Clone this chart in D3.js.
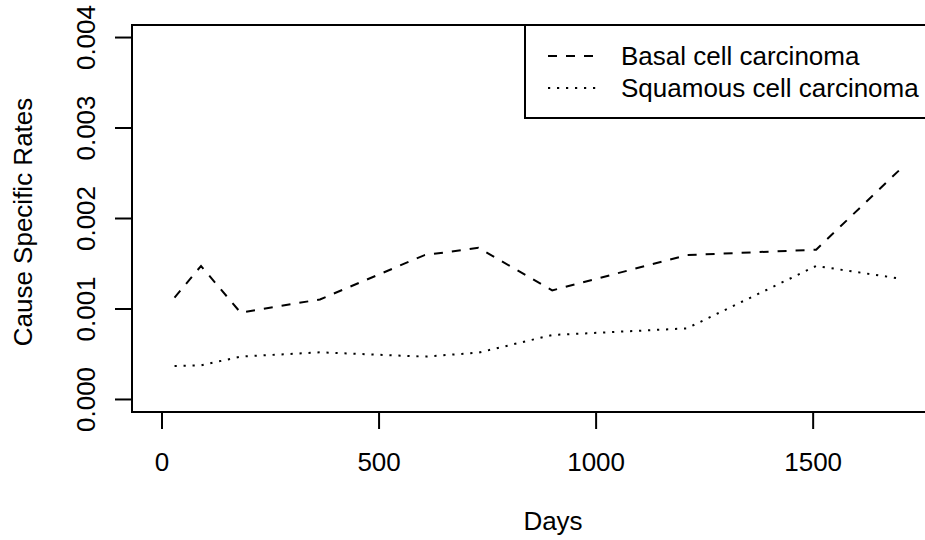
<!DOCTYPE html>
<html lang="en">
<head>
<meta charset="utf-8">
<title>Cause specific rates</title>
<script src="https://cdn.jsdelivr.net/npm/d3@7"></script>
<style>
  body { margin: 0; background: #fff; }
  text { font-family: "Liberation Sans", Arial, Helvetica, sans-serif; fill: #000; }
</style>
</head>
<body>
<script>
// data
var days = [30, 91, 182, 365, 606, 730, 900, 1210, 1508, 1702];
var basal = [0.00112, 0.00147, 0.000955, 0.00110, 0.00159, 0.00167, 0.00120, 0.00159, 0.00165, 0.00254];
var squamous = [0.000365, 0.000372, 0.000468, 0.000516, 0.000468, 0.000512, 0.000707, 0.00078, 0.00147, 0.00133];
var seriesNames = ["Basal cell carcinoma", "Squamous cell carcinoma"];
var xTicks = [0, 500, 1000, 1500];
var yTicks = [0, 0.001, 0.002, 0.003, 0.004];

var w = 925, h = 540;
var fs = 26;

var svg = d3.select("body").append("svg")
    .attr("width", w)
    .attr("height", h);

var x = d3.scaleLinear().domain([-68, 1768]).range([132, 929]);
var y = d3.scaleLinear().domain([-0.000144, 0.004133]).range([412, 25]);

// lines
var line = d3.line()
    .x(function(d) { return x(d[0]); })
    .y(function(d) { return y(d[1]); });

var dashes = ["9,9", "2.2,6.8"];
[basal, squamous].forEach(function(s, k) {
  svg.append("path")
     .datum(d3.zip(days, s))
     .attr("d", line)
     .attr("fill", "none")
     .attr("stroke", "#000")
     .attr("stroke-width", 2)
     .attr("stroke-dasharray", dashes[k]);
});

// x axis
var xa = svg.append("g")
    .attr("transform", "translate(0,412)")
    .call(d3.axisBottom(x).tickValues(xTicks).tickSize(17).tickPadding(24).tickFormat(d3.format("d")));
xa.select(".domain").remove();
xa.selectAll("line").attr("stroke", "#000").attr("stroke-width", 2);
xa.selectAll("text").attr("font-size", fs).attr("font-family", null).attr("fill", "#000");

// y axis
var ya = svg.append("g")
    .attr("transform", "translate(132,0)")
    .call(d3.axisLeft(y).tickValues(yTicks).tickSize(17).tickFormat(d3.format(".3f")));
ya.select(".domain").remove();
ya.selectAll("line").attr("stroke", "#000").attr("stroke-width", 2);
ya.selectAll("text")
  .attr("font-size", fs).attr("font-family", null).attr("fill", "#000")
  .attr("x", null).attr("dy", null)
  .attr("text-anchor", "middle")
  .attr("transform", "translate(-37,0) rotate(-90)");

// plot box
svg.append("rect")
   .attr("x", 132).attr("y", 25)
   .attr("width", 929 - 132).attr("height", 412 - 25)
   .attr("fill", "none").attr("stroke", "#000").attr("stroke-width", 2);

// axis titles
svg.append("text")
   .attr("x", 553).attr("y", 530)
   .attr("text-anchor", "middle")
   .attr("font-size", fs)
   .text("Days");

svg.append("text")
   .attr("transform", "translate(32,222) rotate(-90)")
   .attr("text-anchor", "middle")
   .attr("font-size", fs)
   .text("Cause Specific Rates");

// legend
var lg = svg.append("g");
lg.append("rect")
  .attr("x", 525).attr("y", 25)
  .attr("width", 420).attr("height", 93)
  .attr("fill", "#fff").attr("stroke", "#000").attr("stroke-width", 2);

seriesNames.forEach(function(name, k) {
  var ly = 56 + k * 32;
  lg.append("line")
    .attr("x1", 548).attr("x2", 597)
    .attr("y1", ly).attr("y2", ly)
    .attr("stroke", "#000").attr("stroke-width", 2)
    .attr("stroke-dasharray", dashes[k]);
  lg.append("text")
    .attr("x", 621).attr("y", ly + 9)
    .attr("font-size", fs)
    .text(name);
});
</script>
</body>
</html>
